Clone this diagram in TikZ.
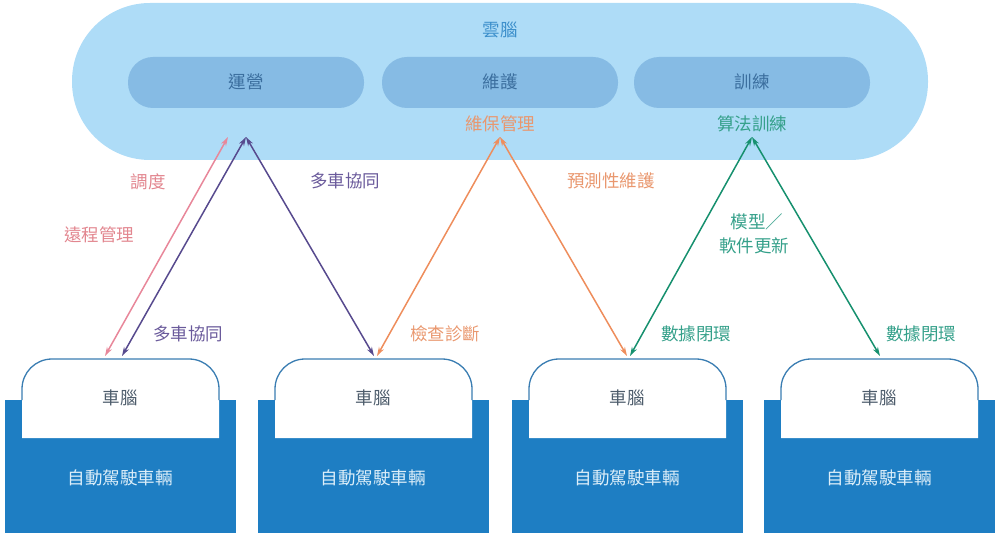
\documentclass[tikz,border=0pt]{standalone}
\usepackage{fontspec}
\newfontfamily\cjk{Noto Sans CJK TC}
\usetikzlibrary{arrows.meta}
\definecolor{cloudc}{HTML}{AEDCF7}
\definecolor{pillc}{HTML}{86BBE4}
\definecolor{pilltext}{HTML}{3B6E9E}
\definecolor{cloudtext}{HTML}{3C8FCB}
\definecolor{carblue}{HTML}{1E7EC3}
\definecolor{taboutline}{HTML}{3A7DB2}
\definecolor{cbrain}{HTML}{4E5D6C}
\definecolor{cartext}{HTML}{DCEEF9}
\definecolor{pinkc}{HTML}{E8879A}
\definecolor{purplec}{HTML}{574A8E}
\definecolor{orangec}{HTML}{EE8D5C}
\definecolor{tealc}{HTML}{16906E}
\definecolor{pinkt}{HTML}{E2868F}
\definecolor{purplet}{HTML}{6A5A9B}
\definecolor{oranget}{HTML}{E9976E}
\definecolor{tealt}{HTML}{35A08A}
\begin{document}
\begin{tikzpicture}[x=1pt,y=-1pt,
  lbl/.style={font=\cjk\fontsize{17.5}{21}\selectfont, inner sep=0pt, align=center},
  pilltxt/.style={lbl, text=pilltext},
  conn/.style={line width=1.5pt, {Stealth[length=9pt,width=5.5pt]}-{Stealth[length=9pt,width=5.5pt]}}
]
\useasboundingbox (0,0) rectangle (1000,537);
% cloud
\path[fill=cloudc, rounded corners=78pt] (72,3) rectangle (928,160);
\node[lbl, text=cloudtext] (cloud) at (500,30) {雲腦};
\foreach \x/\t/\n in {246/運營/ops, 500/維護/mnt, 752/訓練/trn}{
  \path[fill=pillc, rounded corners=25pt] (\x-118,57) rectangle (\x+118,108);
  \node[pilltxt] (\n) at (\x,82) {\t};
}
\node[lbl, text=oranget] (mntsub) at (500,124) {維保管理};
\node[lbl, text=tealt] (trnsub) at (752,124) {算法訓練};
% cars
\foreach \c/\i in {120/1, 373/2, 627/3, 879/4}{
  \fill[carblue] (\c-115,400) rectangle (\c+116,533);
  \fill[white] (\c-98,438) -- (\c-98,389) arc[start angle=180, end angle=270, radius=30] -- (\c+69,359) arc[start angle=270, end angle=360, radius=30] -- (\c+99,438) -- cycle;
  \draw[taboutline, line width=1.3pt] (\c-98,400) -- (\c-98,389) arc[start angle=180, end angle=270, radius=30] -- (\c+69,359) arc[start angle=270, end angle=360, radius=30] -- (\c+99,400);
  \node[lbl, text=cbrain] (brain\i) at (\c,398) {車腦};
  \node[lbl, text=cartext] (car\i) at (\c,478) {自動駕駛車輛};
}
% connector end points
\coordinate (p1b) at (105,356);
\coordinate (p1t) at (228,137);
\coordinate (q1b) at (122,356);
\coordinate (qt) at (246,137);
\coordinate (q2b) at (374,356);
\coordinate (o2b) at (377,356);
\coordinate (ot) at (500,137);
\coordinate (o3b) at (627,356);
\coordinate (g3b) at (630,356);
\coordinate (gt) at (752,137);
\coordinate (g4b) at (880,356);
\draw[conn, pinkc] (p1b) -- (p1t);
\draw[conn, purplec] (q1b) -- (qt);
\draw[conn, purplec] (qt) -- (q2b);
\draw[conn, orangec] (o2b) -- (ot);
\draw[conn, orangec] (ot) -- (o3b);
\draw[conn, tealc] (g3b) -- (gt);
\draw[conn, tealc] (gt) -- (g4b);
% labels
\node[lbl, text=pinkt] (l1) at (148,182) {調度};
\node[lbl, text=pinkt] (l2) at (99,235) {遠程管理};
\node[lbl, text=purplet] (l3) at (345,181) {多車協同};
\node[lbl, text=purplet] (l4) at (188,334) {多車協同};
\node[lbl, text=oranget] (l5) at (445,334) {檢查診斷};
\node[lbl, text=oranget] (l6) at (611,181) {預測性維護};
\node[lbl, text=tealt] (l7) at (757,222) {模型／};
\node[lbl, text=tealt] (l8) at (754,246) {軟件更新};
\node[lbl, text=tealt] (l9) at (696,334) {數據閉環};
\node[lbl, text=tealt] (l10) at (921,334) {數據閉環};
\end{tikzpicture}
\end{document}
